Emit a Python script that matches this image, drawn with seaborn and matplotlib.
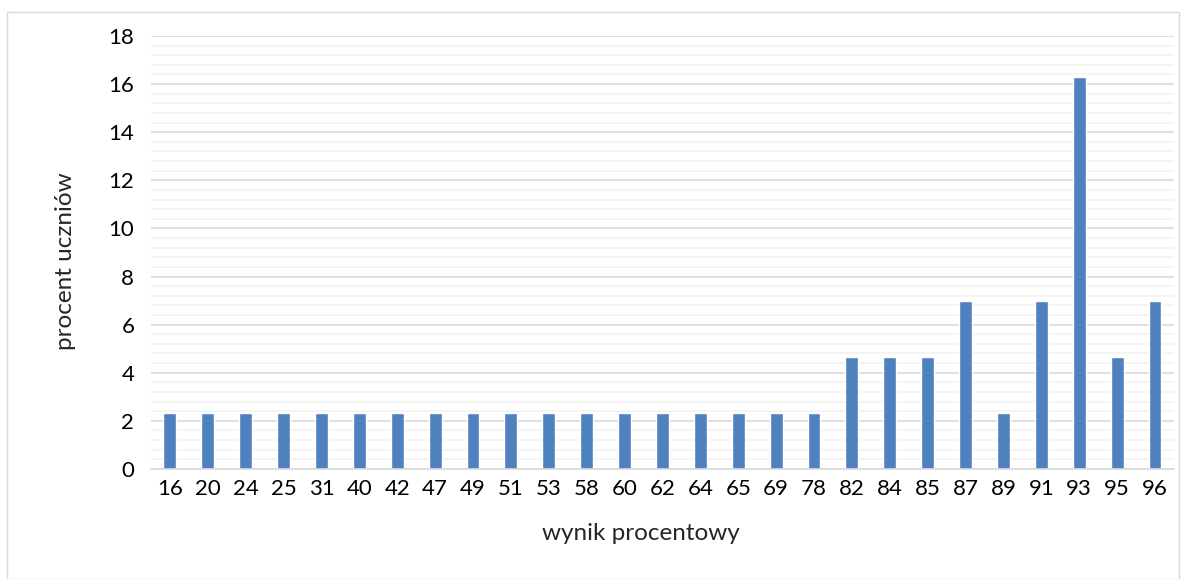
import numpy as np
import pandas as pd
import seaborn as sns
import matplotlib.pyplot as plt
from matplotlib.patches import Rectangle
from matplotlib.ticker import MultipleLocator

# wynik procentowy -> procent uczniów
scores = ['16', '20', '24', '25', '31', '40', '42', '47', '49', '51', '53', '58', '60',
          '62', '64', '65', '69', '78', '82', '84', '85', '87', '89', '91', '93', '95', '96']
percent = [2.33, 2.33, 2.33, 2.33, 2.33, 2.33, 2.33, 2.33, 2.33, 2.33, 2.33, 2.33, 2.33,
           2.33, 2.33, 2.33, 2.33, 2.33, 4.65, 4.65, 4.65, 6.98, 2.33, 6.98, 16.28, 4.65, 6.98]

df = pd.DataFrame({'wynik': scores, 'procent': percent})

sns.set_style('white')
plt.rcParams['font.family'] = ['Lato', 'DejaVu Sans']

fig = plt.figure(figsize=(11.84, 5.79), dpi=100)
ax = fig.add_axes([0.1275, 0.19, 0.864, 0.748])

sns.barplot(data=df, x='wynik', y='procent', color='#4F81BD', saturation=1,
            width=0.34, ax=ax)

ax.set_ylim(0, 18)
ax.yaxis.set_major_locator(MultipleLocator(2))
ax.yaxis.set_minor_locator(MultipleLocator(0.4))
ax.grid(which='major', axis='y', color='#D9D9D9', linewidth=1.2)
ax.grid(which='minor', axis='y', color='#F2F2F2', linewidth=1.2)
ax.set_axisbelow(True)
for s in ['top', 'right', 'left']:
    ax.spines[s].set_visible(False)
ax.spines['bottom'].set_color('#D9D9D9')
ax.spines['bottom'].set_linewidth(1.2)
ax.tick_params(axis='both', which='both', length=0, labelsize=16, colors='#000000')
ax.tick_params(axis='y', pad=12)
ax.tick_params(axis='x', pad=7)
ax.set_xlim(-0.5, len(scores) - 0.5)

ax.set_xlabel('wynik procentowy', fontsize=17.5)
ax.set_ylabel('procent uczniów', fontsize=17.5)
ax.xaxis.set_label_coords(0.479, -0.125)
ax.yaxis.set_label_coords(-0.073, 0.48)

fig.patches.append(Rectangle((0.006, 0.0), 0.99, 0.979, transform=fig.transFigure,
                             fill=False, edgecolor='#D9D9D9', linewidth=1))

fig.savefig('out.png', dpi=100)
